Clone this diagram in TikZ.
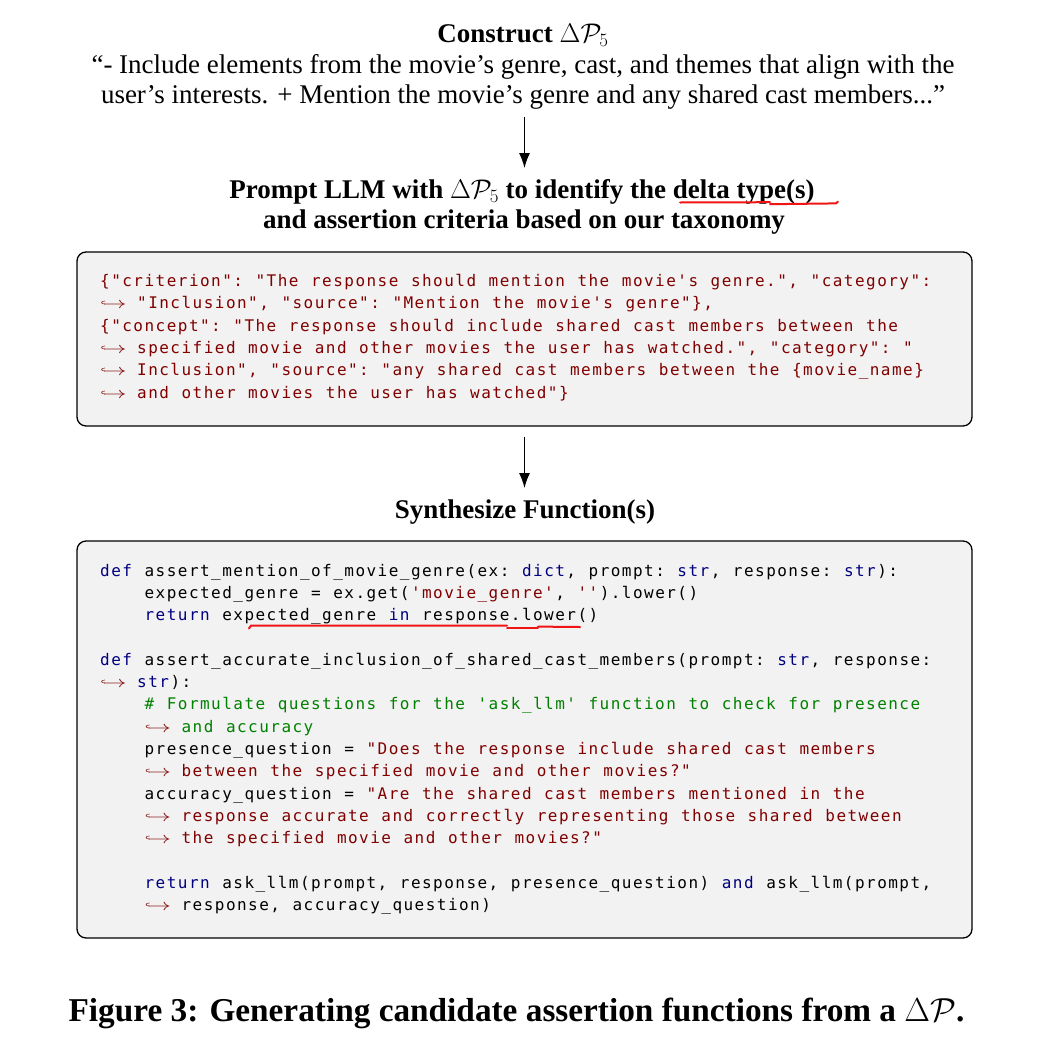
\RequirePackage{fix-cm}
\documentclass[tikz,border=0pt]{standalone}
\usepackage{fontspec}
\setmainfont{Liberation Serif}
\setmonofont[LetterSpace=9.18]{DejaVu Sans Mono}
\usetikzlibrary{arrows.meta}
\definecolor{kwblue}{RGB}{0,0,128}
\definecolor{strred}{RGB}{128,0,0}
\definecolor{cmgreen}{RGB}{0,128,0}
\definecolor{boxgray}{RGB}{242,242,242}
\definecolor{markred}{RGB}{240,20,20}
\newdimen\lsp \lsp=1.468pt
\chardef\usc=`\_
\chardef\lbr=`\{
\chardef\rbr=`\}
\chardef\hsh=`\#
\newcommand\K{\kern\lsp\relax}
\newcommand\kw[1]{\textcolor{kwblue}{#1}}
\newcommand\st[1]{\textcolor{strred}{#1}}
\newcommand\cm[1]{\textcolor{cmgreen}{#1}}
\newcommand\brk{\makebox[37pt][l]{\textcolor{strred}{\scalebox{1.5}[1]{$\hookrightarrow$}}}}
\newcommand\codefont{\ttfamily\fontsize{16pt}{22.3pt}\selectfont\frenchspacing\spaceskip=12.57pt\relax}
\tikzset{
  head/.style={anchor=base, inner sep=0pt, font=\fontsize{27pt}{30pt}\selectfont},
  bhead/.style={anchor=base, inner sep=0pt, font=\fontsize{27pt}{30pt}\selectfont\bfseries},
  capt/.style={anchor=base, inner sep=0pt, font=\fontsize{33.3pt}{36pt}\selectfont\bfseries},
  code/.style={anchor=base west, inner sep=0pt, font=\codefont},
  codebox/.style={draw=black, line width=1.3pt, fill=boxgray, rounded corners=9pt, inner sep=0pt},
  arr/.style={line width=1.2pt, -{Latex[length=15pt,width=11pt]}},
  redmark/.style={draw=markred, line width=2pt, line cap=round, line join=round}
}
\begin{document}
\begin{tikzpicture}[x=1pt,y=-1pt]
\useasboundingbox (0,0) rectangle (1058,1055);
\fill[white] (0,0) rectangle (1058,1055);

% headings
\node[bhead] (t0) at (523,42) {Construct $\Delta\mathcal{P}_5$};
\node[head] (q1) at (523,73) {“- Include elements from the movie’s genre, cast, and themes that align with the};
\node[head] (q2) at (523,103) {user’s interests. + Mention the movie’s genre and any shared cast members...”};
\node[bhead] (p1) at (522,198.5) {Prompt LLM with $\Delta\mathcal{P}_5$ to identify the delta type(s)};
\node[bhead] (p2) at (524,228) {and assertion criteria based on our taxonomy};
\node[bhead] (s1) at (525,518) {Synthesize Function(s)};
\node[capt] (cap) at (516.5,1021) {Figure 3: Generating candidate assertion functions from a $\Delta\mathcal{P}$.};

% boxes
\node[codebox, minimum width=895pt, minimum height=174pt] (box1) at (524.5,339) {};
\node[codebox, minimum width=895pt, minimum height=397pt] (box2) at (524.5,739.5) {};

% arrows
\coordinate (a1s) at (524.5,117);
\coordinate (a1e) at (524.5,168);
\coordinate (a2e) at (524.5,488);
\draw[arr] (a1s) -- (a1e);
\draw[arr, shorten <=10pt] (box1.south) -- (a2e);

% box 1 text
\node[code] (j0) at (100,286.5) {\st{\lbr"criterion": "The response should mention the movie's genre.", "category":}};
\node[code] (j1) at (100,308.8) {\brk\st{"Inclusion", "source": "Mention the movie's genre"\rbr,}};
\node[code] (j2) at (100,331.1) {\st{\lbr"concept": "The response should include shared cast members between the}};
\node[code] (j3) at (100,353.4) {\brk\st{specified movie and other movies the user has watched.", "category": "}};
\node[code] (j4) at (100,375.7) {\brk\st{Inclusion", "source": "any shared cast members between the \lbr movie\usc name\rbr}};
\node[code] (j5) at (100,398) {\brk\st{and other movies the user has watched"\rbr}};

% box 2 code
\node[code] (c0) at (100,576) {\kw{def} assert\usc mention\usc of\usc movie\usc genre(ex: \kw{dict}\K, prompt: \kw{str}\K, response: \kw{str}\K):};
\node[code] (c1) at (144.4,598.3) {expected\usc genre = ex.get(\K\st{'movie\usc genre'}\K, \st{''}\K).lower()};
\node[code] (c2) at (144.4,620.6) {\kw{return} expected\usc genre \kw{in} response.lower()};
\node[code] (c4) at (100,665.2) {\kw{def} assert\usc accurate\usc inclusion\usc of\usc shared\usc cast\usc members(prompt: \kw{str}\K, response:};
\node[code] (c5) at (100,687.5) {\brk\kw{str}\K):};
\node[code] (c6) at (144.4,709.8) {\cm{\hsh{} Formulate questions for the 'ask\usc llm' function to check for presence}};
\node[code] (c7) at (144.4,732.1) {\brk\cm{and accuracy}};
\node[code] (c8) at (144.4,754.4) {presence\usc question = \st{"Does the response include shared cast members}};
\node[code] (c9) at (144.4,776.7) {\brk\st{between the specified movie and other movies?"}};
\node[code] (c10) at (144.4,799) {accuracy\usc question = \st{"Are the shared cast members mentioned in the}};
\node[code] (c11) at (144.4,821.3) {\brk\st{response accurate and correctly representing those shared between}};
\node[code] (c12) at (144.4,843.6) {\brk\st{the specified movie and other movies?"}};
\node[code] (c14) at (144.4,888.2) {\kw{return} ask\usc llm(prompt, response, presence\usc question) \kw{and} ask\usc llm(prompt,};
\node[code] (c15) at (144.4,910.5) {\brk response, accuracy\usc question)};

% hand-drawn red underlines
\draw[redmark] (680,202.5) -- (770,202.2);
\draw[redmark] (770,204.2) -- (836,203.4) -- (838,201.5);
\draw[redmark] (249,628.5) -- (251,625.6) -- (507,625.6);
\draw[redmark] (507,627.6) -- (538,627.6);
\draw[redmark] (538,626.6) -- (580,627);
\end{tikzpicture}
\end{document}
